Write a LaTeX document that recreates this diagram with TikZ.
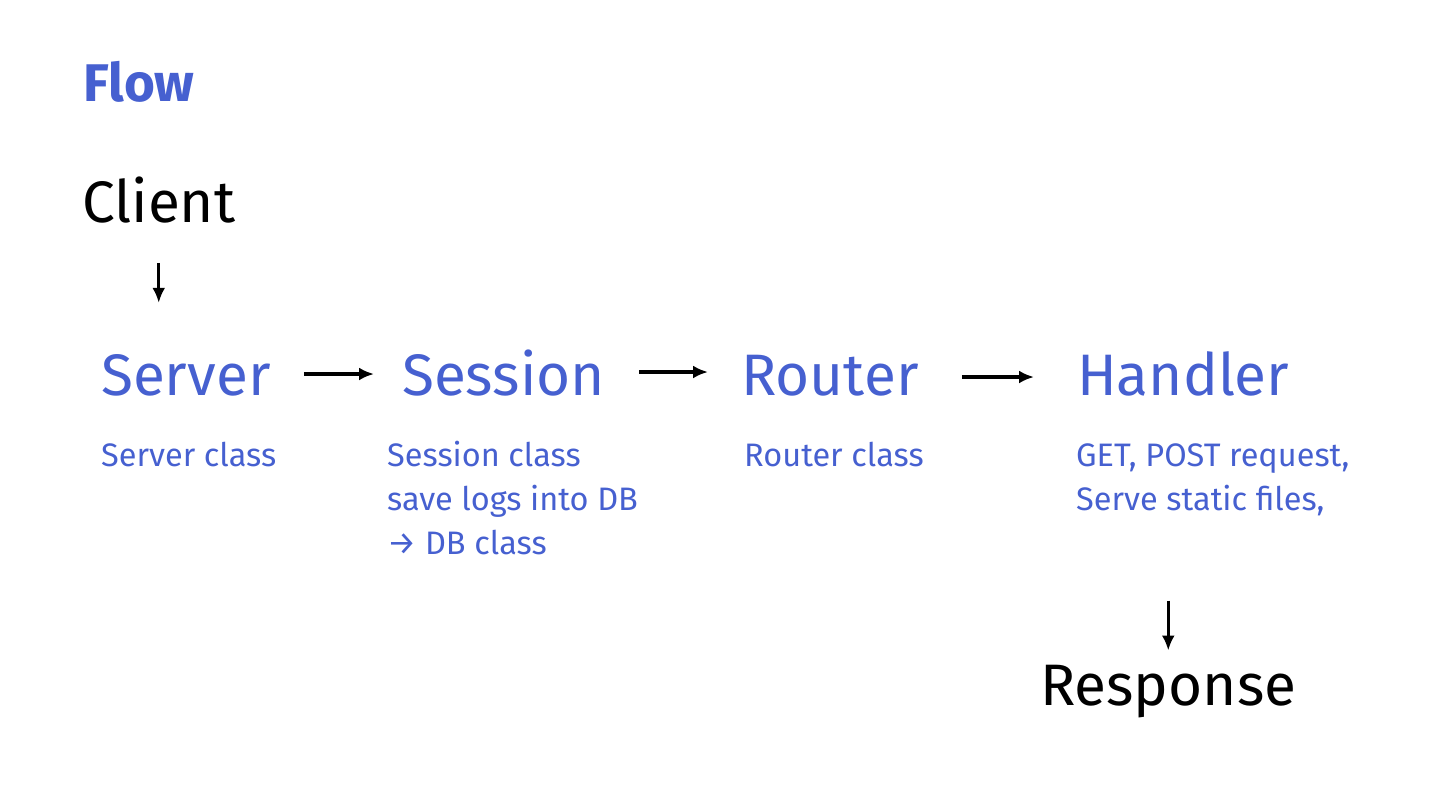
\documentclass[tikz,border=0pt]{standalone}
\usepackage{fontspec}
\setmainfont{Fira Sans}
\usetikzlibrary{positioning,arrows.meta}
\definecolor{flowblue}{RGB}{70,96,208}
\tikzset{
  title/.style={anchor=base west, inner sep=0pt, text=flowblue, font=\fontsize{53}{53}\selectfont\bfseries},
  ends/.style={anchor=base west, inner sep=0pt, font=\fontsize{58.5}{58.5}\selectfont},
  stage/.style={anchor=base west, inner sep=0pt, text height=42pt, text depth=0pt, text=flowblue, font=\fontsize{58.5}{58.5}\selectfont},
  note/.style={anchor=base west, inner sep=0pt, text=flowblue, align=left, font=\fontsize{32.5}{44}\selectfont},
  flowarrow/.style={-{Latex[length=15pt,width=13pt]}, line width=3.2pt}
}
\begin{document}
\begin{tikzpicture}[x=1pt,y=-1pt]
  \useasboundingbox (0,0) rectangle (1440,809);

  \node[title] (flow) at (83,101) {Flow};
  \node[ends] (client) at (82,222) {Client};

  \node[stage] (server) at (101,395) {Server};
  \node[stage] (session) at (402,395) {Session};
  \node[stage] (router) at (741,395) {Router};
  \node[stage] (handler) at (1077,395) {Handler};

  % multi-line notes sit on their last baseline
  \node[note] (servernote) at (101,466) {Server class};
  \node[note] (sessionnote) at (387,554) {Session class\\save logs into DB\\→ DB class};
  \node[note] (routernote) at (744,466) {Router class};
  \node[note] (handlernote) at (1076,510) {GET, POST request,\\Serve static files,};

  \node[ends] (response) at (1040,705) {Response};

  % request goes in
  \draw[flowarrow, shorten <=40pt, shorten >=50pt] (client.south) -- (client.south |- server.north);

  \draw[flowarrow, shorten <=33pt, shorten >=28pt] (server.east) -- (session.west);
  \draw[flowarrow, shorten <=34pt, shorten >=33pt] ([yshift=2pt]session.east) -- ([yshift=2pt]router.west);
  \draw[flowarrow, shorten <=43pt, shorten >=43pt] ([yshift=-3pt]router.east) -- ([yshift=-3pt]handler.west);

  % response goes out
  \draw[flowarrow, shorten <=85pt, shorten >=14pt] (handlernote.south -| response.north) -- (response.north);
\end{tikzpicture}
\end{document}
